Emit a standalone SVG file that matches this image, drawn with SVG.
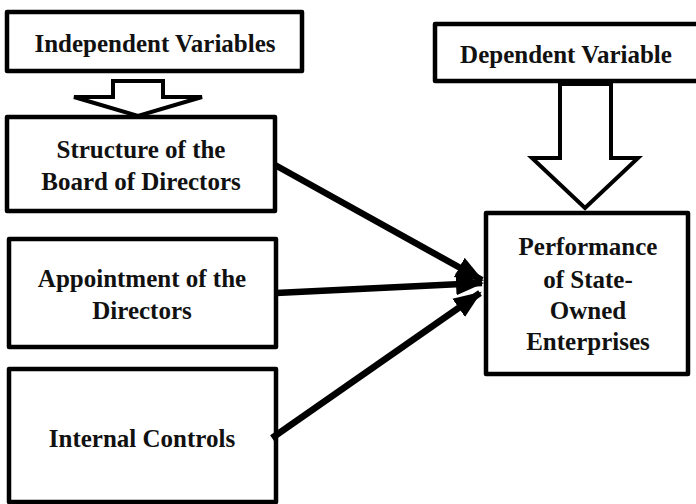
<svg xmlns="http://www.w3.org/2000/svg" width="696" height="504" viewBox="0 0 696 504">
<defs>
<style>
.box{fill:#fff;stroke:#000;stroke-width:4.5;stroke-linejoin:round}
.hollow{fill:#fff;stroke:#000;stroke-width:4;stroke-linejoin:miter}
.t{font-family:"Liberation Serif","Times New Roman",serif;font-weight:bold;font-size:25px;fill:#111;text-anchor:middle}
.conn{stroke:#000;stroke-width:6.5;fill:none}
</style>
<marker id="ah" markerUnits="userSpaceOnUse" markerWidth="30" markerHeight="30" viewBox="0 0 30 30" refX="26" refY="15" orient="auto">
<path d="M0,4 L28,15 L0,26 Z" fill="#000"/>
</marker>
</defs>
<rect width="696" height="504" fill="#fff"/>
<g id="node-independent">
<rect class="box" x="7" y="12" width="295" height="59"/>
<text class="t" x="155" y="52">Independent Variables</text>
</g>
<g id="node-structure">
<rect class="box" x="7" y="117" width="268" height="94"/>
<text class="t" x="141" y="158">Structure of the</text>
<text class="t" x="141" y="190">Board of Directors</text>
</g>
<g id="node-appointment">
<rect class="box" x="9" y="239" width="267" height="108"/>
<text class="t" x="142" y="287">Appointment of the</text>
<text class="t" x="142" y="319">Directors</text>
</g>
<g id="node-internal">
<rect class="box" x="9" y="369" width="267" height="133"/>
<text class="t" x="142" y="447">Internal Controls</text>
</g>
<g id="node-dependent">
<rect class="box" x="435" y="24" width="290" height="57"/>
<text class="t" x="566" y="63">Dependent Variable</text>
</g>
<g id="node-performance">
<rect class="box" x="486" y="213" width="202" height="161"/>
<text class="t" x="588" y="255">Performance</text>
<text class="t" x="588" y="288">of State-</text>
<text class="t" x="588" y="319">Owned</text>
<text class="t" x="588" y="350">Enterprises</text>
</g>
<g id="connectors">
<polygon class="hollow" points="113,81 163,81 163,97 202,97 138,116 74,97 113,97"/>
<polygon class="hollow" points="560,84 611,84 611,158 638,158 585,208 532,158 560,158"/>
<line class="conn" x1="275" y1="165" x2="482" y2="280" marker-end="url(#ah)"/>
<line class="conn" x1="276" y1="293" x2="482" y2="283" marker-end="url(#ah)"/>
<line class="conn" x1="272" y1="438" x2="480" y2="293" marker-end="url(#ah)"/>
</g>
</svg>
